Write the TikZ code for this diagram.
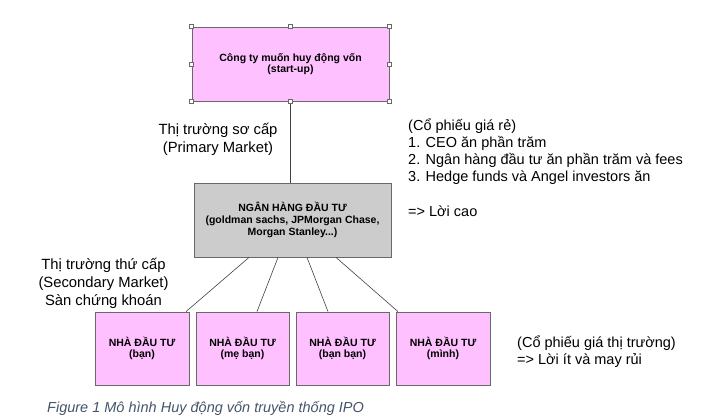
\documentclass[tikz,border=0pt]{standalone}
\usepackage{fontspec}
\setmainfont{Liberation Sans}
\usetikzlibrary{calc}
\definecolor{pinkfill}{RGB}{255,192,255}
\definecolor{grayfill}{RGB}{204,204,204}
\definecolor{edgegray}{RGB}{105,105,105}
\definecolor{captioncol}{RGB}{68,84,106}
\tikzset{
  boxbase/.style={draw=edgegray, line width=0.8pt, inner sep=0pt, align=center,
    font=\bfseries\fontsize{10.5}{11.7}\selectfont},
  pinkbox/.style={boxbase, fill=pinkfill},
  graybox/.style={boxbase, fill=grayfill},
  handle/.style={draw=edgegray, fill=white, line width=0.5pt, minimum size=4pt, inner sep=0pt},
  link/.style={draw=black!75, line width=0.6pt},
  lbl/.style={inner sep=0pt, font=\fontsize{14.8}{18}\selectfont},
  notes/.style={inner sep=0pt, align=left, font=\fontsize{14.5}{17}\selectfont},
}
\begin{document}
\begin{tikzpicture}[x=1pt,y=-1pt]
\useasboundingbox (0,0) rectangle (710,418);
\node[pinkbox, minimum width=197pt, minimum height=74pt] (top) at (290.5,64)
  {Công ty muốn huy động vốn\\(start-up)};
\node[graybox, minimum width=197pt, minimum height=74pt] (mid) at (292.5,220)
  {NGÂN HÀNG ĐẦU TƯ\\(goldman sachs, JPMorgan Chase,\\Morgan Stanley...)};
\node[pinkbox, minimum width=94pt, minimum height=73pt] (b1) at (142,348.5)
  {NHÀ ĐẦU TƯ\\(bạn)};
\node[pinkbox, minimum width=93pt, minimum height=73pt] (b2) at (242.5,348.5)
  {NHÀ ĐẦU TƯ\\(mẹ bạn)};
\node[pinkbox, minimum width=93pt, minimum height=73pt] (b3) at (342.5,348.5)
  {NHÀ ĐẦU TƯ\\(bạn bạn)};
\node[pinkbox, minimum width=94pt, minimum height=73pt] (b4) at (443,348.5)
  {NHÀ ĐẦU TƯ\\(mình)};
% connectors
\draw[link] ([yshift=-2pt]top.south) -- (top.south |- mid.north);
\draw[link] ([xshift=-43.5pt]mid.south) -- ([xshift=44pt]b1.north);
\draw[link] ([xshift=-14.5pt]mid.south) -- ([xshift=14.5pt]b2.north);
\draw[link] ([xshift=14.5pt]mid.south) -- ([xshift=-14.5pt]b3.north);
\draw[link] ([xshift=43.5pt]mid.south) -- ([xshift=-45pt]b4.north);
% selection handles
\foreach \a in {north west,north,north east,west,east,south west,south,south east}
  \node[handle] at (top.\a) {};
% labels
\node[lbl, align=center] (prim) at (218,139) {Thị trường sơ cấp\\(Primary Market)};
\node[lbl, align=center] (sec) at (103.5,283) {Thị trường thứ cấp\\(Secondary Market)\\Sàn chứng khoán};
\node[notes, anchor=west] (cheap) at (408,167.5)
  {(Cổ phiếu giá rẻ)\\1. CEO ăn phần trăm\\2. Ngân hàng đầu tư ăn phần trăm và fees\\3. Hedge funds và Angel investors ăn\\[17.5pt]=> Lời cao};
\node[notes, anchor=west] (market) at (517,352)
  {(Cổ phiếu giá thị trường)\\=> Lời ít và may rủi};
\node[inner sep=0pt, anchor=west, text=captioncol, font=\itshape\fontsize{14.5}{17}\selectfont] (cap) at (47,408)
  {Figure 1 Mô hình Huy động vốn truyền thống IPO};
\end{tikzpicture}
\end{document}
